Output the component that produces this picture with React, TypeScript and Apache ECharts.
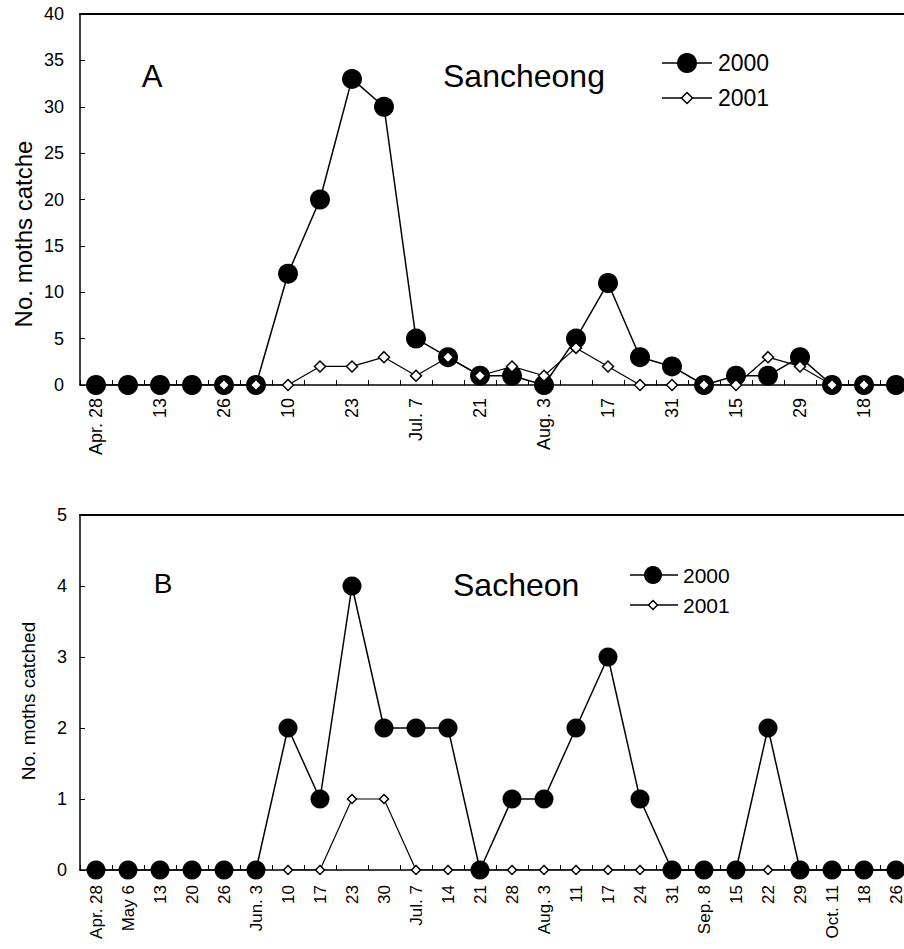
import React, { useEffect, useRef } from "react";
import * as echarts from "echarts";

const categories = [
  "Apr. 28", "May 6", "13", "20", "26", "Jun. 3", "10", "17", "23", "30",
  "Jul. 7", "14", "21", "28", "Aug. 3", "11", "17", "24", "31", "Sep. 8",
  "15", "22", "29", "Oct. 11", "18", "26",
];

const sancheong2000 = [0, 0, 0, 0, 0, 0, 12, 20, 33, 30, 5, 3, 1, 1, 0, 5, 11, 3, 2, 0, 1, 1, 3, 0, 0, 0];
const sancheong2001 = [null, null, null, null, 0, 0, 0, 2, 2, 3, 1, 3, 1, 2, 1, 4, 2, 0, 0, 0, 0, 3, 2, 0, 0, null];

const sacheon2000 = [0, 0, 0, 0, 0, 0, 2, 1, 4, 2, 2, 2, 0, 1, 1, 2, 3, 1, 0, 0, 0, 2, 0, 0, 0, 0];
const sacheon2001 = [null, null, null, null, null, null, 0, 0, 1, 1, 0, 0, 0, 0, 0, 0, 0, 0, 0, 0, 0, 0, 0, 0, 0, 0];

const yTicksA = { min: 0, max: 40, interval: 5 };
const yTicksB = { min: 0, max: 5, interval: 1 };

const FONT = "Liberation Sans, Arial, sans-serif";

export default function App() {
  const ref = useRef<HTMLDivElement>(null);

  useEffect(() => {
    if (!ref.current) return;
    const chart = echarts.init(ref.current, undefined, { renderer: "svg" });

    const xBottom = (gridIndex: number, labelInterval: number, fontSize: number, margin: number) => ({
      type: "category",
      gridIndex,
      data: categories,
      boundaryGap: true,
      position: "bottom",
      axisLine: { show: true, onZero: false, lineStyle: { color: "#000", width: 1.5 } },
      axisTick: { show: true, inside: true, length: 5, interval: 0, lineStyle: { color: "#000", width: 1 } },
      axisLabel: {
        interval: labelInterval,
        rotate: 90,
        margin,
        fontSize,
        fontFamily: FONT,
        color: "#000",
      },
      splitLine: { show: false },
    });

    const xTop = (gridIndex: number) => ({
      type: "category",
      gridIndex,
      data: categories,
      boundaryGap: true,
      position: "top",
      axisLine: { show: true, onZero: false, lineStyle: { color: "#000", width: 2 } },
      axisTick: { show: false },
      axisLabel: { show: false },
      splitLine: { show: false },
    });

    const yAxis = (gridIndex: number, ticks: any, fontSize: number, margin: number) => ({
      type: "value",
      gridIndex,
      min: ticks.min,
      max: ticks.max,
      interval: ticks.interval,
      axisLine: { show: true, lineStyle: { color: "#000", width: 1.5 } },
      axisTick: { show: true, inside: true, length: 5, lineStyle: { color: "#000", width: 1 } },
      axisLabel: { fontSize, margin, fontFamily: FONT, color: "#000" },
      splitLine: { show: false },
    });

    const filled = (data: any[], xi: number, yi: number, size: number, z: number) => ({
      type: "line",
      name: "2000",
      xAxisIndex: xi,
      yAxisIndex: yi,
      data,
      symbol: "circle",
      symbolSize: size,
      showAllSymbol: true,
      z,
      itemStyle: { color: "#000", borderColor: "#000", borderWidth: 0 },
      lineStyle: { color: "#000", width: 1.5 },
    });

    const hollow = (data: any[], xi: number, yi: number, size: number, z: number) => ({
      type: "line",
      name: "2001",
      xAxisIndex: xi,
      yAxisIndex: yi,
      data,
      symbol: "diamond",
      symbolSize: size,
      showAllSymbol: true,
      connectNulls: false,
      z,
      itemStyle: { color: "#fff", borderColor: "#000", borderWidth: 1.5 },
      lineStyle: { color: "#000", width: 1.2 },
    });

    const txt = (text: string, x: number, y: number, fontSize: number, align = "left", rotation = 0) => ({
      type: "text",
      x,
      y,
      rotation,
      style: {
        text,
        x: 0,
        y: 0,
        fontSize,
        fontFamily: FONT,
        fill: "#000",
        align,
        verticalAlign: "middle",
      },
    });

    const line = (x1: number, y1: number, x2: number, y2: number, w = 1.5) => ({
      type: "line",
      shape: { x1, y1, x2, y2 },
      style: { stroke: "#000", lineWidth: w },
    });

    const diamond = (cx: number, cy: number, h: number) => ({
      type: "polygon",
      shape: { points: [[cx, cy - h], [cx + h, cy], [cx, cy + h], [cx - h, cy]] },
      style: { fill: "#fff", stroke: "#000", lineWidth: 1.5 },
    });

    chart.setOption({
      animation: false,
      backgroundColor: "#fff",
      grid: [
        { left: 80, top: 14, width: 832, height: 371 },
        { left: 80, top: 515, width: 832, height: 355 },
      ],
      xAxis: [
        xBottom(0, 1, 18, 13),
        xTop(0),
        xBottom(1, 0, 17, 15),
        xTop(1),
      ],
      yAxis: [yAxis(0, yTicksA, 18, 16), yAxis(1, yTicksB, 18, 13)],
      series: [
        filled(sancheong2000, 0, 0, 20, 2),
        hollow(sancheong2001, 0, 0, 11, 3),
        hollow(sacheon2001, 2, 1, 9, 2),
        filled(sacheon2000, 2, 1, 19, 3),
      ],
      graphic: [
        txt("No. moths catche", 23, 234, 24, "center", Math.PI / 2),
        txt("A", 152, 76, 31, "center"),
        txt("Sancheong", 443, 76, 32, "left"),
        line(662, 63, 712, 63),
        { type: "circle", shape: { cx: 687, cy: 63, r: 10 }, style: { fill: "#000" } },
        txt("2000", 718, 63, 23, "left"),
        line(662, 98, 712, 98),
        diamond(687, 98, 5.5),
        txt("2001", 718, 98, 23, "left"),

        txt("No. moths catched", 28, 701, 19, "center", Math.PI / 2),
        txt("B", 163, 583, 28, "center"),
        txt("Sacheon", 453, 585, 32, "left"),
        line(630, 575, 678, 575),
        { type: "circle", shape: { cx: 653, cy: 575, r: 9 }, style: { fill: "#000" } },
        txt("2000", 683, 575, 21, "left"),
        line(630, 605, 678, 605),
        diamond(653, 605, 4.5),
        txt("2001", 683, 605, 21, "left"),
      ],
    });

    return () => chart.dispose();
  }, []);

  return (
    <div
      style={{
        position: "fixed",
        left: 0,
        top: 0,
        width: 904,
        height: 949,
        overflow: "hidden",
        background: "#fff",
      }}
    >
      <div ref={ref} style={{ width: 920, height: 949 }} />
    </div>
  );
}
